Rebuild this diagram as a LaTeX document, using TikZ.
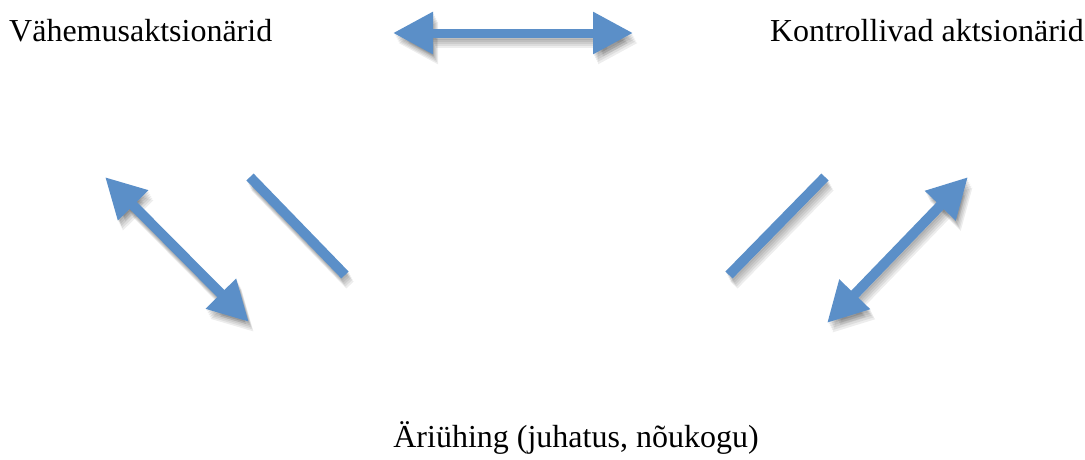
\documentclass[tikz,border=0pt]{standalone}
\usepackage{fontspec}
\setmainfont{Liberation Serif}
\usetikzlibrary{arrows.meta}
\definecolor{arrowblue}{HTML}{5B8FC8}
\tikzset{
  lbl/.style={inner sep=0pt, font=\fontsize{32}{38}\selectfont, text=black},
  dbl/.style={line width=#1, draw=arrowblue,
    {Triangle[length=40pt,width=40pt]}-{Triangle[length=40pt,width=40pt]}},
  dbl/.default=9pt,
  bar/.style={line width=10pt, draw=arrowblue, line cap=butt},
  shdbl/.style={line width=#1, draw=black, draw opacity=0.07, fill opacity=0.07,
    {Triangle[length=40pt,width=40pt]}-{Triangle[length=40pt,width=40pt]}},
  shdbl/.default=9pt,
  shbar/.style={line width=10pt, draw=black, draw opacity=0.07},
}
\begin{document}
\begin{tikzpicture}[x=1pt,y=-1pt]
\useasboundingbox (0,0) rectangle (1085,459);
% labels
\node[lbl, anchor=base west] (min) at (9,41) {Vähemusaktsionärid};
\node[lbl, anchor=base east] (ctl) at (1084,41) {Kontrollivad aktsionärid};
\node[lbl, anchor=base] (co) at (576,447) {Äriühing (juhatus, nõukogu)};
% arrow end points
\coordinate (t1) at (393,33);
\coordinate (t2) at (633,33);
\coordinate (l1) at (105,177);
\coordinate (l2) at (249,322);
\coordinate (b1) at (250,177);
\coordinate (b2) at (345,275);
\coordinate (c1) at (825,177);
\coordinate (c2) at (729,275);
\coordinate (r1) at (968,177);
\coordinate (r2) at (827,323);
% soft shadows
\foreach \dx/\dy in {1/2,2/4,3/6,4/8,5/10}{
  \begin{scope}[transform canvas={xshift=\dx pt, yshift=-\dy pt}]
    \draw[shdbl] (t1) -- (t2);
    \draw[shdbl=10pt] (l1) -- (l2);
    \draw[shdbl=10pt] (r1) -- (r2);
    \draw[shbar] (b1) -- (b2);
    \draw[shbar] (c1) -- (c2);
  \end{scope}
}
% arrows
\draw[dbl] (t1) -- (t2);
\draw[dbl=10pt] (l1) -- (l2);
\draw[dbl=10pt] (r1) -- (r2);
\draw[bar] (b1) -- (b2);
\draw[bar] (c1) -- (c2);
\end{tikzpicture}
\end{document}
